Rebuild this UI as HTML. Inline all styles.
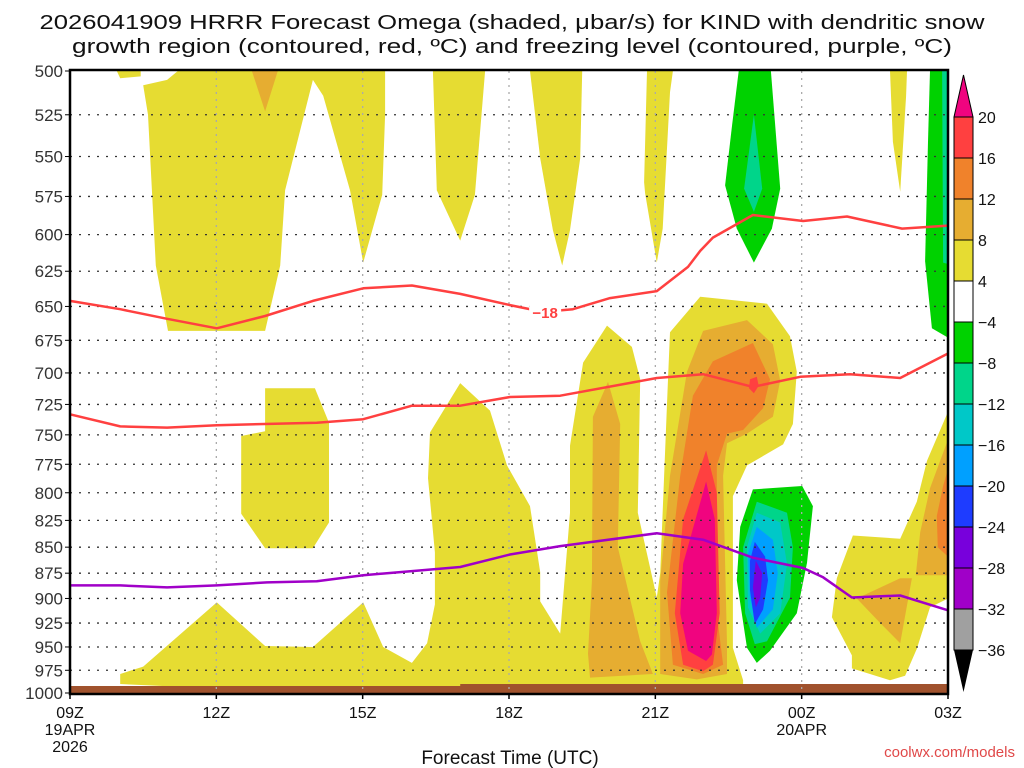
<!DOCTYPE html>
<html><head><meta charset="utf-8"><style>
html,body{margin:0;padding:0;background:#fff;}
svg{display:block;font-family:"Liberation Sans",sans-serif;}
</style></head><body>
<svg id="chart" width="1024" height="768" viewBox="0 0 1024 768" xmlns="http://www.w3.org/2000/svg">
<g fill="#111" font-size="20">
<text x="512" y="29" text-anchor="middle" textLength="945" lengthAdjust="spacingAndGlyphs">2026041909 HRRR Forecast Omega (shaded, μbar/s) for KIND with dendritic snow</text>
<text x="512" y="53" text-anchor="middle" textLength="880" lengthAdjust="spacingAndGlyphs">growth region (contoured, red, ºC) and freezing level (contoured, purple, ºC)</text>
</g>
<g id="fills"></g>
<g id="grid"></g>
<g id="lines"></g>
<g id="axes"></g>
<g id="cbar"></g>
<text x="510" y="764" text-anchor="middle" font-size="19" fill="#111">Forecast Time (UTC)</text>
<text x="1015" y="757" text-anchor="end" font-size="15" fill="#e04848">coolwx.com/models</text>
</svg>
<script>
const pressureTicks=[500,525,550,575,600,625,650,675,700,725,750,775,800,825,850,875,900,925,950,975,1000];
const timeTicks=[0,3,6,9,12,15,18];
const timeLabels=[["09Z","19APR","2026"],["12Z"],["15Z"],["18Z"],["21Z"],["00Z","20APR"],["03Z"]];
const cbLevels=["20","16","12","8","4","−4","−8","−12","−16","−20","−24","−28","−32","−36"];
const cbColors=["#ff4040","#f0822b","#e6ad31","#e6dc32","#ffffff","#00d200","#00d58a","#00c8c8","#00a0ff","#1e3cff","#7800dc","#a000c8","#a0a0a0"];
// filled omega contours: [colorIndex(level), points [hour, hPa]]
const shapeTopSmall=[[0.96,500],[1.45,500],[1.45,503],[1.03,504]];
const shapeTopLeft=[[2.21,500],[6.46,500],[6.46,525],[6.40,574],[6.01,619],[5.74,571],[5.19,514],[4.98,505],[4.41,571],[4.31,621],[4.0,668],[2.01,668],[1.76,621],[1.60,525],[1.50,508],[1.99,505]];
const shapeTopOrange=[[3.73,500],[4.26,500],[4.0,523]];
const shapeTopD=[[7.44,500],[8.51,500],[8.30,574],[8.0,604],[7.52,571]];
const shapeTopE=[[9.43,500],[10.50,500],[10.46,551],[10.25,597],[10.09,621],[9.90,597],[9.64,551]];
const shapeTopF=[[11.83,500],[12.36,500],[12.30,512],[12.15,596],[12.03,619],[11.79,573],[11.77,566]];
const shapeTopG=[[16.81,500],[17.16,500],[17.14,514],[17.02,572],[16.87,541]];
const shapeGreenTop=[[13.71,500],[14.37,500],[14.56,570],[14.39,596],[14.02,619],[13.67,596],[13.43,568],[13.57,532]];
const shapeTealTop=[[14.02,525],[14.19,570],[14.02,585],[13.82,570]];
const shapeGreenRight=[[17.63,500],[18,500],[18,673],[17.67,666],[17.53,618],[17.59,541]];
const shapeTealRight=[[17.88,500],[18,500],[18,620],[17.90,619]];
const shapeMidK=[[4.0,712],[5.02,712],[5.31,740],[5.31,827],[4.98,851],[4.0,851],[3.51,819],[3.51,751],[4.0,747]];
const shapeLower=[[1.03,987],[1.03,979],[1.50,971],[3.01,904],[4.0,949],[4.98,950],[6.01,904],[6.42,950],[7.01,967],[7.32,946],[7.48,906],[7.48,855],[7.34,787],[7.38,748],[8.0,708],[8.61,730],[8.96,776],[9.43,812],[9.64,874],[9.64,903],[10.05,936],[10.25,818],[10.25,759],[10.52,692],[11.01,664],[11.52,680],[11.69,705],[11.64,818],[11.95,882],[12.03,899],[12.10,875],[12.26,705],[12.30,669],[12.92,643],[14.29,648],[14.76,672],[14.90,699],[14.82,741],[14.62,758],[13.88,776],[13.59,803],[13.59,951],[13.80,986],[13.80,995],[10.05,995],[7.03,995],[4.98,993],[3.01,995],[1.03,990]];
const shapeN8=[[10.72,735],[11.03,707],[11.28,741],[11.23,850],[11.69,944],[11.95,979],[10.66,983],[10.62,957],[10.70,883]];
const shapeC8=[[12.98,668],[13.88,660],[14.41,678],[14.56,706],[14.41,735],[13.88,749],[13.47,757],[13.39,785],[13.47,947],[13.47,979],[12.85,985],[12.10,979],[12.10,882],[12.30,785],[12.65,699]];
const shapeC12=[[13.18,691],[14.0,677],[14.35,705],[14.21,728],[13.80,746],[13.47,749],[13.26,776],[13.26,915],[13.39,969],[12.98,979],[12.36,969],[12.24,894],[12.51,785],[12.77,718]];
const shapeC16=[[13.04,763],[13.26,800],[13.32,915],[13.18,969],[12.98,976],[12.57,969],[12.40,915],[12.57,824]];
const shapeC20=[[13.04,790],[13.22,824],[13.26,915],[13.16,958],[13.04,965],[12.67,954],[12.51,915],[12.57,866]];
const shapeDot16=[[13.94,705],[14.08,703],[14.12,710],[14.02,716],[13.92,712]];
const shapeNeg4=[[14.0,797],[15.01,794],[15.23,812],[15.11,865],[14.90,915],[14.35,954],[14.08,967],[13.88,951],[13.67,882],[13.74,831]];
const shapeNeg8=[[14.08,808],[14.70,818],[14.82,850],[14.76,899],[14.29,944],[14.04,947],[13.84,915],[13.80,850]];
const shapeNeg12=[[14.08,818],[14.56,827],[14.70,866],[14.56,915],[14.15,936],[13.90,909],[13.88,850]];
const shapeNeg16=[[14.08,831],[14.41,843],[14.51,875],[14.41,911],[14.08,930],[13.94,899],[13.90,856]];
const shapeNeg20=[[14.04,845],[14.25,859],[14.31,882],[14.21,911],[14.04,926],[13.94,892],[13.94,863]];
const shapeNeg24=[[14.06,863],[14.19,875],[14.15,899],[14.06,909],[14.0,889]];
const shapeRight4=[[18,731],[18,900],[17.63,909],[17.36,952],[17.12,981],[16.81,986],[16.03,973],[16.03,959],[15.62,919],[15.72,880],[16.05,839],[17.02,842],[17.36,808],[17.57,772]];
const shapeRight8=[[18,754],[18,877],[17.34,877],[17.43,836],[17.63,796]];
const shapeTri8=[[16.13,900],[17.02,880],[17.26,880],[17.02,946],[16.61,925]];
const shapeRight12=[[18,779],[18,859],[17.79,850],[17.77,821],[17.90,794]];
// contour lines
const dgzUpperHours=[0,1.03,1.99,3.01,4.0,4.98,6.01,7.01,8.0,9.02,9.70,10.31,11.07,12.03,12.67,12.92,13.18,14.0,15.03,15.93,17.06,18];
const dgzUpperP=[646,652,659,666,657,646,637,635,641,649,654,652,644,639,622,611,602,587,591,588,596,594];
const dgzLowerHours=[0,1.03,1.99,3.01,5.06,6.01,7.01,8.0,9.02,10.05,12.03,12.98,14.0,14.97,15.99,17.02,18];
const dgzLowerP=[733,743,744,742,740,737,726,726,719,718,704,701,711,703,701,704,685];
const frzHours=[0,1.03,1.99,3.01,4.04,5.06,6.01,7.01,8.0,9.02,10.05,12.03,12.98,14.0,15.03,15.44,16.03,17.02,18];
const frzP=[887,887,889,887,884,883,877,873,869,857,849,837,843,860,870,879,899,897,912];

const NS="http://www.w3.org/2000/svg";
const X0=70,X1=948,Y0=71,Y1=693;
function xs(h){return X0+(X1-X0)*h/18;}
function ys(p){return Y0+(Y1-Y0)*Math.log(p/500)/Math.log(2);}
function mk(tag,attrs,parent){const e=document.createElementNS(NS,tag);for(const k in attrs)e.setAttribute(k,attrs[k]);parent.appendChild(e);return e;}
const fills=document.getElementById('fills');
const C={p20:"#f0047f",p16:"#ff4040",p12:"#f0822b",p8:"#e6ad31",p4:"#e6dc32",n4:"#00d200",n8:"#00d58a",n12:"#00c8c8",n16:"#00a0ff",n20:"#1e3cff",n24:"#7800dc"};
const fillList=[
["yellow-top-small",C.p4,shapeTopSmall],["yellow-top-left",C.p4,shapeTopLeft],["orange-top",C.p8,shapeTopOrange],
["yellow-top-d",C.p4,shapeTopD],["yellow-top-e",C.p4,shapeTopE],["yellow-top-f",C.p4,shapeTopF],["yellow-top-g",C.p4,shapeTopG],
["green-top",C.n4,shapeGreenTop],["teal-top",C.n8,shapeTealTop],["green-right",C.n4,shapeGreenRight],["teal-right",C.n8,shapeTealRight],
["yellow-mid",C.p4,shapeMidK],["yellow-lower",C.p4,shapeLower],["orange-light-n",C.p8,shapeN8],["orange-light-core",C.p8,shapeC8],
["orange-core",C.p12,shapeC12],["red-core",C.p16,shapeC16],["magenta-core",C.p20,shapeC20],["red-dot",C.p16,shapeDot16],
["green-blob",C.n4,shapeNeg4],["teal-blob",C.n8,shapeNeg8],["cyan-blob",C.n12,shapeNeg12],["lightblue-blob",C.n16,shapeNeg16],
["blue-blob",C.n20,shapeNeg20],["purple-blob",C.n24,shapeNeg24],
["yellow-right",C.p4,shapeRight4],["orange-light-right",C.p8,shapeRight8],["orange-light-tri",C.p8,shapeTri8],["orange-right",C.p12,shapeRight12]];
fillList.forEach(f=>{
  const pts=f[2].map(q=>xs(q[0]).toFixed(1)+","+ys(q[1]).toFixed(1)).join(" ");
  const el=mk('polygon',{points:pts,fill:f[1]},fills);
  
  
});
// terrain strip
const terr=mk('path',{d:`M${X0},686 L${xs(8)},686 L${xs(8)},684 L${X1},684 L${X1},${Y1} L${X0},${Y1}Z`,fill:"#a0522d"},fills);


// grid
const grid=document.getElementById('grid');
pressureTicks.forEach(p=>{
  if(p===500||p===1000)return;
  const l=mk('line',{x1:X0,x2:X1,y1:ys(p),y2:ys(p),stroke:"#333","stroke-width":1.3,"stroke-dasharray":"2,7"},grid);
  
  
});
timeTicks.forEach(t=>{
  if(t===0||t===18)return;
  const l=mk('line',{x1:xs(t),x2:xs(t),y1:Y0,y2:Y1,stroke:"#aaa","stroke-width":1.3,"stroke-dasharray":"2,5"},grid);
  
  
});
// lines
const lines=document.getElementById('lines');
function poly(hs,ps,color,name){
  const pts=hs.map((h,i)=>xs(h).toFixed(1)+","+ys(ps[i]).toFixed(1)).join(" ");
  const el=mk('polyline',{points:pts,fill:"none",stroke:color,"stroke-width":2.5,"stroke-linejoin":"round"},lines);
  
  
}
poly(dgzUpperHours,dgzUpperP,"#ff4040","dgz-upper-contour");
poly(dgzLowerHours,dgzLowerP,"#ff4040","dgz-lower-contour");
poly(frzHours,frzP,"#a000c8","freezing-level-contour");
const lb=mk('rect',{x:xs(dgzUpperHours[10])-14,y:ys(dgzUpperP[10])-7,width:32,height:14,fill:"#fff"},lines);


const lt=mk('text',{x:xs(dgzUpperHours[10])+2,y:ys(dgzUpperP[10])+6,"text-anchor":"middle","font-size":15,"font-weight":"bold",fill:"#ff4040"},lines);
lt.textContent="−18";


// axes
const axes=document.getElementById('axes');
const fr=mk('rect',{x:X0,y:Y0-1,width:X1-X0,height:Y1-Y0+2,fill:"none",stroke:"#000","stroke-width":2.5},axes);


pressureTicks.forEach(p=>{
  const t=mk('line',{x1:X0-5,x2:X0,y1:ys(p),y2:ys(p),stroke:"#000","stroke-width":1},axes);
  
  
  const tx=mk('text',{x:X0-7,y:ys(p)+6,"text-anchor":"end","font-size":17,fill:"#333"},axes);
  tx.textContent=p;
  
  
});
timeTicks.forEach((t,i)=>{
  const tk=mk('line',{x1:xs(t),x2:xs(t),y1:Y1,y2:Y1+6,stroke:"#000","stroke-width":1.5},axes);
  
  
  timeLabels[i].forEach((s,j)=>{
    const tx=mk('text',{x:xs(t),y:718+j*17,"text-anchor":"middle","font-size":16,fill:"#111"},axes);
    tx.textContent=s;
    
    
  });
});
// colorbar
const cb=document.getElementById('cbar');
const CBX=954,CBW=19,CBT=117,CBH=41;
const up=mk('polygon',{points:`${CBX},${CBT} ${CBX+CBW},${CBT} ${CBX+CBW/2},75`,fill:"#f0047f",stroke:"#000","stroke-width":1},cb);


cbColors.forEach((c,i)=>{
  const r=mk('rect',{x:CBX,y:CBT+i*CBH,width:CBW,height:CBH,fill:c,stroke:"#000","stroke-width":1},cb);
  
  
});
const dn=mk('polygon',{points:`${CBX},${CBT+13*CBH} ${CBX+CBW},${CBT+13*CBH} ${CBX+CBW/2},692`,fill:"#000"},cb);


cbLevels.forEach((s,i)=>{
  const tx=mk('text',{x:978,y:CBT+i*CBH+6,"font-size":16,fill:"#111"},cb);
  tx.textContent=s;
  
  
});
</script>
</body></html>
